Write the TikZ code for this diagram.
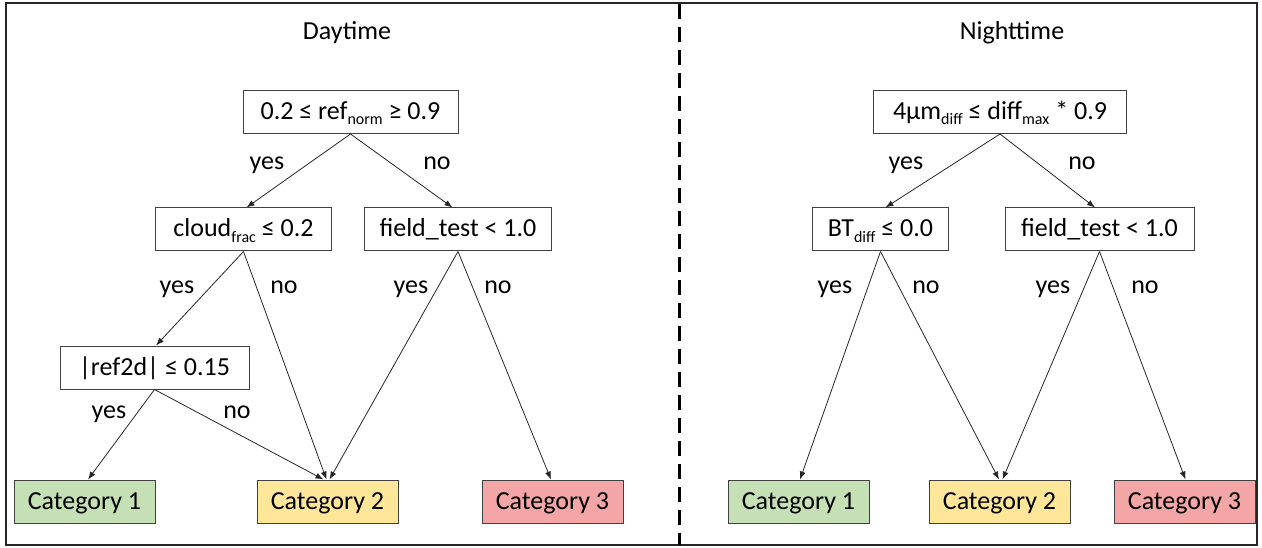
\documentclass[tikz,border=0pt]{standalone}
\usepackage{fontspec}
\setmainfont{Carlito}
\usetikzlibrary{arrows.meta}
\definecolor{catgreen}{HTML}{C5E0B4}
\definecolor{catyellow}{HTML}{FFE699}
\definecolor{catred}{HTML}{F4A6A6}
\newcommand\sbs[1]{\raisebox{-0.2em}{\fontsize{16}{16}\selectfont #1}}
\begin{document}
\begin{tikzpicture}[x=1pt,y=-1pt,
  every node/.style={font=\fontsize{26}{31}\selectfont, inner sep=0pt},
  testbox/.style={draw=black!75, line width=1pt, minimum height=43pt, fill=white, text height=20pt, text depth=5pt},
  catbox/.style={draw=black!75, line width=1pt, minimum height=43pt, minimum width=141pt, text height=20pt, text depth=5pt},
  lbl/.style={anchor=base},
  arr/.style={draw=black!85, line width=0.8pt, -{Latex[length=8pt,width=6pt]}},
  title/.style={anchor=base}
]
\useasboundingbox (0,0) rectangle (1262,548);
\draw[line width=1.6pt, black!85] (6,3) rectangle (1257,545);
\coordinate (dtop) at (679,4);
\coordinate (dbot) at (679,545);
\draw[line width=3pt, dash pattern=on 15pt off 8pt] (dtop) -- (dbot);

% titles
\node[title] (tday) at (347,40) {Daytime};
\node[title] (tnight) at (1012,40) {Nighttime};

% daytime boxes
\node[testbox, minimum width=215pt] (droot) at (350.5,112) {0.2 ≤ ref\sbs{norm} ≥ 0.9};
\node[testbox, minimum width=176pt] (dcloud) at (243.5,229.5) {cloud\sbs{frac} ≤ 0.2};
\node[testbox, minimum width=187pt] (dfield) at (458,229.5) {field\_test < 1.0};
\node[testbox, minimum width=189pt] (dref) at (154.5,367.5) {|ref2d| ≤ 0.15};
\node[catbox, fill=catgreen] (dc1) at (84.5,501.5) {Category 1};
\node[catbox, fill=catyellow] (dc2) at (327.5,501.5) {Category 2};
\node[catbox, fill=catred] (dc3) at (552.5,501.5) {Category 3};

% nighttime boxes
\node[testbox, minimum width=253pt] (nroot) at (1000,112) {4µm\sbs{diff} ≤ diff\sbs{max} * 0.9};
\node[testbox, minimum width=136pt] (nbt) at (880.5,229.5) {BT\sbs{diff} ≤ 0.0};
\node[testbox, minimum width=189pt] (nfield) at (1099.5,229.5) {field\_test < 1.0};
\node[catbox, fill=catgreen] (nc1) at (798.5,501.5) {Category 1};
\node[catbox, fill=catyellow] (nc2) at (999.5,501.5) {Category 2};
\node[catbox, fill=catred] (nc3) at (1184.5,501.5) {Category 3};

% daytime connectors
\draw[arr] (droot.south) -- ([xshift=-104pt]droot.south |- dcloud.north);
\draw[arr] (droot.south) -- ([xshift=102pt]droot.south |- dfield.north);
\draw[arr] (dcloud.south) -- ([xshift=1.5pt]dref.north);
\draw[arr] (dcloud.south) -- ([xshift=-1pt]dc2.north);
\draw[arr] (dfield.south) -- ([xshift=2pt]dc2.north);
\draw[arr] (dfield.south) -- ([xshift=-1.5pt]dc3.north);
\draw[arr] (dref.south) -- ([xshift=3.5pt]dc1.north);
\draw[arr] (dref.south) -- ([xshift=-4pt]dc2.north);

% nighttime connectors
\draw[arr] (nroot.south) -- ([xshift=5pt]nbt.north);
\draw[arr] (nroot.south) -- ([xshift=-4.5pt]nfield.north);
\draw[arr] (nbt.south) -- ([xshift=1.5pt]nc1.north);
\draw[arr] (nbt.south) -- ([xshift=-0.5pt]nc2.north);
\draw[arr] (nfield.south) -- ([xshift=3pt]nc2.north);
\draw[arr] (nfield.south) -- ([xshift=1pt]nc3.north);

% labels daytime
\node[lbl] (l1) at (267,170) {yes};
\node[lbl] (l2) at (437,170) {no};
\node[lbl] (l3) at (177,294) {yes};
\node[lbl] (l4) at (284,294) {no};
\node[lbl] (l5) at (411,294) {yes};
\node[lbl] (l6) at (498,294) {no};
\node[lbl] (l7) at (109,418) {yes};
\node[lbl] (l8) at (237,418) {no};

% labels nighttime
\node[lbl] (m1) at (906,170) {yes};
\node[lbl] (m2) at (1082,170) {no};
\node[lbl] (m3) at (835,294) {yes};
\node[lbl] (m4) at (926,294) {no};
\node[lbl] (m5) at (1053,294) {yes};
\node[lbl] (m6) at (1145,294) {no};
\end{tikzpicture}
\end{document}
